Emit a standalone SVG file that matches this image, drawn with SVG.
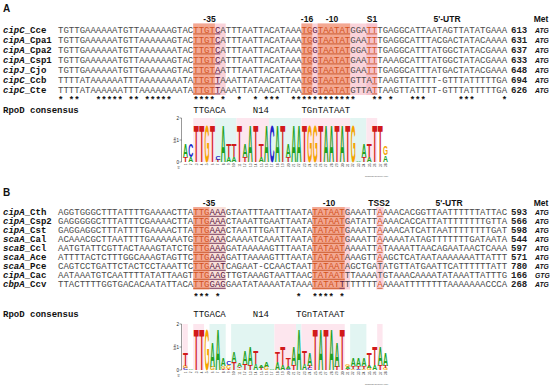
<svg xmlns="http://www.w3.org/2000/svg" width="550" height="387" viewBox="0 0 550 387">
<style>
.seq{font-family:"Liberation Mono","DejaVu Sans Mono",monospace;font-size:9.02px;fill:#4a4a4a}
.nm{font-family:"Liberation Mono","DejaVu Sans Mono",monospace;font-size:9.02px;font-weight:bold;fill:#111}
.nm .i{font-style:italic}
.num{font-family:"Liberation Mono",monospace;font-size:9.02px;font-weight:bold;fill:#222}
.cod{font-family:"Liberation Sans",Arial,sans-serif;font-size:6.8px;font-weight:bold;font-style:italic;fill:#111}
.hd{font-family:"Liberation Sans",Arial,sans-serif;font-size:8.5px;font-weight:bold;fill:#111;text-anchor:middle}
.pl{font-family:"Liberation Sans",Arial,sans-serif;font-size:10px;font-weight:bold;fill:#111}
.st{font-family:"Liberation Mono",monospace;font-size:9.02px;font-weight:bold;fill:#111}
.cons{font-family:"Liberation Mono",monospace;font-size:9.02px;fill:#111}
.o{fill:#d4521c}
.p{fill:#5a1844}
.pk{fill:#fad3da}
.pk2{fill:#f7c2cc}
.sa{fill:#f3a892}
.ul{stroke:#c24a18;stroke-width:0.8;fill:none}
.ulp{stroke:#5a1844;stroke-width:0.8;fill:none}
.L{font-family:"Liberation Sans",Arial,sans-serif;font-weight:bold;font-size:10px}
.la{fill:#21a121}
.lc{fill:#2222c8}
.lg{fill:#f4a400}
.lt{fill:#d11a1a}
.ax{stroke:#333;stroke-width:0.5;fill:none}
.tk{font-family:"Liberation Sans",Arial,sans-serif;font-size:4.5px;fill:#222;text-anchor:end}
.pn{font-family:"Liberation Sans",Arial,sans-serif;font-size:3.2px;fill:#333;text-anchor:end}
.wl{font-family:"Liberation Sans",Arial,sans-serif;font-size:2.4px;fill:#555;text-anchor:end}
.bgp{fill:#fde6ee}
.bgc{fill:#e2f5f2}
</style>

<g id="panelA">
<text class="pl" x="3" y="12">A</text>
<g id="headerA">
<text class="hd" x="209.5" y="21.5">-35</text>
<text class="hd" x="307" y="21.5">-16</text>
<text class="hd" x="332" y="21.5">-10</text>
<text class="hd" x="372" y="21.5">S1</text>
<text class="hd" x="447" y="21.5">5'-UTR</text>
<text class="hd" x="541" y="21.5">Met</text>
</g>
<g id="highlightA">
<rect class="pk" x="193.25" y="23.5" width="32.46" height="71.5"/>
<rect class="sa" x="193.25" y="23.5" width="21.64" height="71.5"/>
<rect class="pk" x="301.45" y="23.5" width="75.74" height="71.5"/>
<rect class="pk2" x="366.37" y="23.5" width="10.82" height="71.5"/>
<rect class="sa" x="301.45" y="23.5" width="10.82" height="71.5"/>
<rect class="sa" x="317.68" y="23.5" width="32.46" height="71.5"/>
</g>
<g id="namesA" class="nm">
<text x="3" y="32.5"><tspan class="i">cipC</tspan>_Cce</text>
<text x="3" y="42.5"><tspan class="i">cipA</tspan>_Cpa1</text>
<text x="3" y="52.5"><tspan class="i">cipA</tspan>_Cpa2</text>
<text x="3" y="62.5"><tspan class="i">cipA</tspan>_Csp1</text>
<text x="3" y="72.5"><tspan class="i">cipJ</tspan>_Cjo</text>
<text x="3" y="82.5"><tspan class="i">cipC</tspan>_Ccb</text>
<text x="3" y="92.5"><tspan class="i">cipC</tspan>_Cte</text>
</g>
<g id="seqA" class="seq">
<text x="58" y="32.5">TGTTGAAAAAATGTTAAAAAAGTAC<tspan class="o">TTGT</tspan><tspan class="p">C</tspan>ATTTAATTACATAAA<tspan class="o">TG</tspan><tspan class="p">G</tspan><tspan class="o">TAATAT</tspan>GGA<tspan class="o">TT</tspan>TGAGGCATTAATAGTTATATGAAA</text>
<text x="58" y="42.5">TGTTGAAAAAATGTTAAAAAAGTAC<tspan class="o">TTGT</tspan><tspan class="p">C</tspan>ATTTAATTACATAAA<tspan class="o">TG</tspan><tspan class="p">G</tspan><tspan class="o">TAATAT</tspan>GAA<tspan class="o">TT</tspan>TGAGGCATTTACGACTATACAAAA</text>
<text x="58" y="52.5">TGTTGAAAAAATGTTAAAAAAATAC<tspan class="o">TTGT</tspan><tspan class="p">C</tspan>ATTTAATTACATAAA<tspan class="o">TG</tspan><tspan class="p">G</tspan><tspan class="o">TAATAT</tspan>GGA<tspan class="o">TT</tspan>TGAGGCATTTATGGCTATACGAAA</text>
<text x="58" y="62.5">TGTTGAAAAAATGTTAAAAAAGTAC<tspan class="o">TTGT</tspan><tspan class="p">C</tspan>ATTTAATTACATAAA<tspan class="o">TG</tspan><tspan class="p">G</tspan><tspan class="o">TAATAT</tspan>GAA<tspan class="o">TT</tspan>TAAAGCATTTATGGCTATACGAAA</text>
<text x="58" y="72.5">TGTTGAAAAAATGTTGAAAAAGTAC<tspan class="o">TTGT</tspan><tspan class="p">A</tspan>ATTTAATTACATAAA<tspan class="o">TG</tspan><tspan class="p">G</tspan><tspan class="o">TAATAT</tspan>GAA<tspan class="o">TT</tspan>TGAGGCATTTATGACTATACGAAA</text>
<text x="58" y="82.5">TTTTATAAAAAATTTAAAAAAAATA<tspan class="o">TTGT</tspan><tspan class="p">T</tspan>AAATTATAACATTAA<tspan class="o">TG</tspan><tspan class="p">G</tspan><tspan class="o">TAATAT</tspan>GTTA<tspan class="o">T</tspan>TAAGTTATTTT-GTTTATTTTTGA</text>
<text x="58" y="92.5">TTTTATAAAAAATTTAAAAAAAATA<tspan class="o">TTGT</tspan><tspan class="p">T</tspan>AAATTATAACATTAA<tspan class="o">TG</tspan><tspan class="p">G</tspan><tspan class="o">TAATAT</tspan>GTTA<tspan class="o">T</tspan>TAAGTTATTTT-GTTTATTTTTGA</text>
</g>
<g id="underlineA">
<path class="ul" d="M193.25 33.9H214.9M301.45 33.9H312.27M317.68 33.9H350.14M366.37 33.9H377.19M193.25 43.9H214.9M301.45 43.9H312.27M317.68 43.9H350.14M366.37 43.9H377.19M193.25 53.9H214.9M301.45 53.9H312.27M317.68 53.9H350.14M366.37 53.9H377.19M193.25 63.9H214.9M301.45 63.9H312.27M317.68 63.9H350.14M366.37 63.9H377.19M193.25 73.9H214.9M301.45 73.9H312.27M317.68 73.9H350.14M366.37 73.9H377.19M193.25 83.9H214.9M301.45 83.9H312.27M317.68 83.9H350.14M371.78 83.9H377.19M193.25 93.9H214.9M301.45 93.9H312.27M317.68 93.9H350.14M371.78 93.9H377.19"/>
<path class="ulp" d="M214.9 33.9H220.3M214.9 43.9H220.3M214.9 53.9H220.3M214.9 63.9H220.3M214.9 73.9H220.3M214.9 83.9H220.3M214.9 93.9H220.3"/>
</g>
<g id="numsA" class="num">
<text x="511" y="32.5">613</text>
<text x="511" y="42.5">631</text>
<text x="511" y="52.5">637</text>
<text x="511" y="62.5">633</text>
<text x="511" y="72.5">648</text>
<text x="511" y="82.5">694</text>
<text x="511" y="92.5">626</text>
</g>
<g id="codA" class="cod">
<text x="535" y="32.5">ATG</text>
<text x="535" y="42.5">ATG</text>
<text x="535" y="52.5">ATG</text>
<text x="535" y="62.5">ATG</text>
<text x="535" y="72.5">ATG</text>
<text x="535" y="82.5">ATG</text>
<text x="535" y="92.5">ATG</text>
</g>
<text class="st" x="58" y="102.5" xml:space="preserve" style="white-space:pre">* **   ***** ** *****    **** *  *  * ***  ************   ** *   ***      ***     *</text>
<g id="consA">
<text class="nm" x="3" y="113">RpoD consensus</text>
<text class="cons" x="193.25" y="113">TTGACA</text>
<text class="cons" x="252.76" y="113">N14</text>
<text class="cons" x="301.45" y="113">TGnTATAAT</text>
</g>
<g id="logoA">
<rect class="bgp" x="193.25" y="118" width="21.64" height="44"/>
<rect class="bgc" x="214.89" y="118" width="21.64" height="44"/>
<rect class="bgp" x="236.53" y="118" width="32.46" height="44"/>
<rect class="bgc" x="268.99" y="118" width="32.46" height="44"/>
<rect class="bgp" x="301.45" y="118" width="48.69" height="44"/>
<rect class="bgc" x="350.14" y="118" width="16.23" height="44"/>
<rect class="bgp" x="366.37" y="118" width="10.82" height="44"/>
<path class="ax" d="M179.5 118H181.5V162H179.5M179.5 140H181.5"/>
<text class="tk" x="179" y="119.6">2</text>
<text class="tk" x="179" y="141.6">1</text>
<text class="tk" x="179" y="163.6">0</text>
<text class="tk" transform="translate(175.5,140) rotate(-90)" style="text-anchor:middle;font-size:4px">bits</text>
<text class="tk" x="180" y="169" style="font-size:3.5px">5′</text>
<g class="L">
<text class="lt" transform="translate(182.93,162) scale(.8183,.737)">T</text>
<text class="la" transform="translate(182.93,156.72) scale(.6925,1.813)">A</text>
<text class="la" transform="translate(188.34,162) scale(.6925,.737)">A</text>
<text class="lc" transform="translate(188.34,156.72) scale(.6925,1.813)">C</text>
<text class="lt" transform="translate(193.75,162) scale(.8183,5.193)">T</text>
<text class="lt" transform="translate(199.16,162) scale(.8183,5.193)">T</text>
<text class="lg" transform="translate(204.57,162) scale(.6427,5.193)">G</text>
<text class="lt" transform="translate(209.98,162) scale(.8183,5.193)">T</text>
<text class="lt" transform="translate(215.39,162) scale(.8183,.277)">T</text>
<text class="lc" transform="translate(215.39,160.02) scale(.6925,.553)">C</text>
<text class="la" transform="translate(220.8,162) scale(.6925,5.193)">A</text>
<text class="la" transform="translate(226.21,162) scale(.6925,.737)">A</text>
<text class="lt" transform="translate(226.21,156.72) scale(.8183,1.813)">T</text>
<text class="la" transform="translate(231.62,162) scale(.6925,.737)">A</text>
<text class="lt" transform="translate(231.62,156.72) scale(.8183,1.813)">T</text>
<text class="lt" transform="translate(237.03,162) scale(.8183,5.193)">T</text>
<text class="lt" transform="translate(242.44,162) scale(.8183,.737)">T</text>
<text class="la" transform="translate(242.44,156.72) scale(.6925,1.813)">A</text>
<text class="la" transform="translate(247.85,162) scale(.6925,5.193)">A</text>
<text class="lt" transform="translate(253.26,162) scale(.8183,5.193)">T</text>
<text class="la" transform="translate(258.67,162) scale(.6925,.737)">A</text>
<text class="lt" transform="translate(258.67,156.72) scale(.8183,1.813)">T</text>
<text class="la" transform="translate(264.08,162) scale(.6925,5.193)">A</text>
<text class="lc" transform="translate(269.49,162) scale(.6925,5.193)">C</text>
<text class="la" transform="translate(274.9,162) scale(.6925,5.193)">A</text>
<text class="lt" transform="translate(280.31,162) scale(.8183,5.193)">T</text>
<text class="lt" transform="translate(285.72,162) scale(.8183,.737)">T</text>
<text class="la" transform="translate(285.72,156.72) scale(.6925,1.813)">A</text>
<text class="la" transform="translate(291.13,162) scale(.6925,5.193)">A</text>
<text class="la" transform="translate(296.54,162) scale(.6925,5.193)">A</text>
<text class="lt" transform="translate(301.95,162) scale(.8183,5.193)">T</text>
<text class="lg" transform="translate(307.36,162) scale(.6427,5.193)">G</text>
<text class="lg" transform="translate(312.77,162) scale(.6427,5.193)">G</text>
<text class="lt" transform="translate(318.18,162) scale(.8183,5.193)">T</text>
<text class="la" transform="translate(323.59,162) scale(.6925,5.193)">A</text>
<text class="la" transform="translate(329,162) scale(.6925,5.193)">A</text>
<text class="lt" transform="translate(334.41,162) scale(.8183,5.193)">T</text>
<text class="la" transform="translate(339.82,162) scale(.6925,5.193)">A</text>
<text class="lt" transform="translate(345.23,162) scale(.8183,5.193)">T</text>
<text class="lg" transform="translate(350.64,162) scale(.6427,5.193)">G</text>
<text class="la" transform="translate(356.05,162) scale(.6925,.154)">A</text>
<text class="lt" transform="translate(361.46,162) scale(.8183,.737)">T</text>
<text class="la" transform="translate(361.46,156.72) scale(.6925,1.813)">A</text>
<text class="la" transform="translate(366.87,162) scale(.6925,.737)">A</text>
<text class="lt" transform="translate(366.87,156.72) scale(.8183,1.813)">T</text>
<text class="lt" transform="translate(372.28,162) scale(.8183,5.193)">T</text>
<text class="lt" transform="translate(377.69,162) scale(.8183,5.193)">T</text>
<text class="la" transform="translate(383.1,162) scale(.6925,.922)">A</text>
<text class="lg" transform="translate(383.1,155.4) scale(.6427,1.229)">G</text>
</g>
<g class="pn" transform="rotate(-90)">
<text x="-163.5" y="186.7">1</text><text x="-163.5" y="192.1">2</text><text x="-163.5" y="197.5">3</text><text x="-163.5" y="202.9">4</text><text x="-163.5" y="208.4">5</text><text x="-163.5" y="213.8">6</text><text x="-163.5" y="219.2">7</text><text x="-163.5" y="224.6">8</text><text x="-163.5" y="230">9</text><text x="-163.5" y="235.4">10</text><text x="-163.5" y="240.8">11</text><text x="-163.5" y="246.2">12</text><text x="-163.5" y="251.6">13</text><text x="-163.5" y="257">14</text><text x="-163.5" y="262.5">15</text><text x="-163.5" y="267.9">16</text><text x="-163.5" y="273.3">17</text><text x="-163.5" y="278.7">18</text><text x="-163.5" y="284.1">19</text><text x="-163.5" y="289.5">20</text><text x="-163.5" y="294.9">21</text><text x="-163.5" y="300.3">22</text><text x="-163.5" y="305.7">23</text><text x="-163.5" y="311.1">24</text><text x="-163.5" y="316.6">25</text><text x="-163.5" y="322">26</text><text x="-163.5" y="327.4">27</text><text x="-163.5" y="332.8">28</text><text x="-163.5" y="338.2">29</text><text x="-163.5" y="343.6">30</text><text x="-163.5" y="349">31</text><text x="-163.5" y="354.4">32</text><text x="-163.5" y="359.8">33</text><text x="-163.5" y="365.2">34</text><text x="-163.5" y="370.7">35</text><text x="-163.5" y="376.1">36</text><text x="-163.5" y="381.5">37</text><text x="-163.5" y="386.9">38</text>
</g>
<text class="wl" x="388" y="176.5">weblogo.berkeley.edu</text>
</g>
</g>

<g id="panelB">
<text class="pl" x="3" y="196">B</text>
<g id="headerB">
<text class="hd" x="209" y="205.5">-35</text>
<text class="hd" x="329" y="205.5">-10</text>
<text class="hd" x="379" y="205.5">TSS2</text>
<text class="hd" x="449" y="205.5">5'-UTR</text>
<text class="hd" x="541" y="205.5">Met</text>
</g>
<g id="highlightB">
<rect fill="#f8dfd8" x="193.25" y="207" width="32.46" height="82.5"/>
<rect class="sa" x="193.25" y="207" width="16.23" height="82.5"/>
<rect class="pk" x="312.27" y="207" width="37.87" height="82.5"/>
<rect class="sa" x="312.27" y="207" width="32.46" height="82.5"/>
<rect class="pk" x="376.2" y="207" width="7.4" height="82.5"/>
</g>
<g id="namesB" class="nm">
<text x="3" y="215"><tspan class="i">cipA</tspan>_Cth</text>
<text x="3" y="224"><tspan class="i">cipA</tspan>_Csp2</text>
<text x="3" y="233"><tspan class="i">cipA</tspan>_Cst</text>
<text x="3" y="242"><tspan class="i">scaA</tspan>_Cal</text>
<text x="3" y="251"><tspan class="i">scaB</tspan>_Ccl</text>
<text x="3" y="260"><tspan class="i">scaA</tspan>_Ace</text>
<text x="3" y="269"><tspan class="i">scaA</tspan>_Pce</text>
<text x="3" y="278"><tspan class="i">cipA</tspan>_Cac</text>
<text x="3" y="287"><tspan class="i">cbpA</tspan>_Ccv</text>
</g>
<g id="seqB" class="seq">
<text x="58" y="215">AGGTGGGCTTTATTTTGAAAACTTA<tspan class="o">TTG</tspan><tspan class="p">AAA</tspan>GTAATTTAATTTAATA<tspan class="o">TATAAT</tspan>GAAATT<tspan class="o">A</tspan>AAACACGGTTAATTTTTTATTAC</text>
<text x="58" y="224">GAGGGGGCTTTATTTCGAAAACTTA<tspan class="o">TTG</tspan><tspan class="p">AAA</tspan>CTAAATTGAATTAATA<tspan class="o">TATAAT</tspan>GATATT<tspan class="o">A</tspan>AAACACCATTATTTTTTTTGTTA</text>
<text x="58" y="233">GAGGAGGCTTTATTTTGAAAACTTA<tspan class="o">TTG</tspan><tspan class="p">AAA</tspan>CTAATTTGATTTAATA<tspan class="o">TATAAT</tspan>GAAATT<tspan class="o">A</tspan>AAACATCATTAATTTTTTTTGAT</text>
<text x="58" y="242">ACAAACGCTTAATTTTGAAAAAATG<tspan class="o">TTG</tspan><tspan class="p">AAA</tspan>CAAAATCAAATTAATA<tspan class="o">TATAAT</tspan>GAAATT<tspan class="o">A</tspan>AAAATATAGTTTTTTTGATAATA</text>
<text x="58" y="251">AATGTATTCGTTACTAAAGTATCTG<tspan class="o">TTG</tspan><tspan class="p">AAA</tspan>GATAAAAAGTTTAATA<tspan class="o">TATAAT</tspan>AAAATT<tspan class="o">A</tspan>TAAAATTAACAGAATAACTCAAA</text>
<text x="58" y="260">ATTTTACTCTTTGGCAAAGTAGTTC<tspan class="o">TTG</tspan><tspan class="p">AAA</tspan>GATTAAAAGTTTAATA<tspan class="o">TATAAT</tspan>AAAGTT<tspan class="o">A</tspan>AGCTCATAATAAAAAAATTATTT</text>
<text x="58" y="269">CAGTCCTGATTCTACTCCTAAATTC<tspan class="o">TTG</tspan><tspan class="p">AAT</tspan>CAGAAT-CCAACTAAT<tspan class="o">TATAAT</tspan>AGCTGATATGTTATGAATTCATTTTTTATT</text>
<text x="58" y="278">AATAAATGTCAATTTTATATTAAGT<tspan class="o">TTG</tspan><tspan class="p">AAG</tspan>TTGTAAAGTAATTAAC<tspan class="o">TATAAT</tspan>TTAAAATGTAAACAAAATATAAATTATTTG</text>
<text x="58" y="287">TTACTTTTGGTGACACAATATTACA<tspan class="o">TTG</tspan><tspan class="p">GAG</tspan>GAATATAAAATATAAA<tspan class="o">TATAT</tspan><tspan class="p">T</tspan>TTTTTT<tspan class="o">A</tspan>AAAATTTTTTTTAAAAAAACCCA</text>
</g>
<g id="underlineB">
<path class="ul" d="M193.25 216.3H209.48M312.27 216.3H344.73M377.19 216.3H382.6M193.25 225.3H209.48M312.27 225.3H344.73M377.19 225.3H382.6M193.25 234.3H209.48M312.27 234.3H344.73M377.19 234.3H382.6M193.25 243.3H209.48M312.27 243.3H344.73M377.19 243.3H382.6M193.25 252.3H209.48M312.27 252.3H344.73M377.19 252.3H382.6M193.25 261.3H209.48M312.27 261.3H344.73M377.19 261.3H382.6M193.25 270.3H209.48M312.27 270.3H344.73M193.25 279.3H209.48M312.27 279.3H344.73M193.25 288.3H209.48M312.27 288.3H339.32M377.19 288.3H382.6"/>
<path class="ulp" d="M209.48 216.3H225.71M209.48 225.3H225.71M209.48 234.3H225.71M209.48 243.3H225.71M209.48 252.3H225.71M209.48 261.3H225.71M209.48 270.3H225.71M209.48 279.3H225.71M209.48 288.3H225.71M339.32 288.3H344.73"/>
</g>
<g id="numsB" class="num">
<text x="511" y="215">593</text>
<text x="511" y="224">566</text>
<text x="511" y="233">598</text>
<text x="511" y="242">544</text>
<text x="511" y="251">597</text>
<text x="511" y="260">571</text>
<text x="511" y="269">780</text>
<text x="511" y="278">166</text>
<text x="511" y="287">268</text>
</g>
<g id="codB" class="cod">
<text x="535" y="215">ATG</text>
<text x="535" y="224">ATG</text>
<text x="535" y="233">ATG</text>
<text x="535" y="242">ATG</text>
<text x="535" y="251">ATG</text>
<text x="535" y="260">ATG</text>
<text x="535" y="269">ATG</text>
<text x="535" y="278">GTG</text>
<text x="535" y="287">ATG</text>
</g>
<text class="st" x="193.25" y="300" xml:space="preserve" style="white-space:pre">*** *</text>
<text class="st" x="296.04" y="300" xml:space="preserve" style="white-space:pre">*  **** *</text>
<g id="consB">
<text class="nm" x="3" y="317">RpoD consensus</text>
<text class="cons" x="193.25" y="317">TTGACA</text>
<text class="cons" x="252.76" y="317">N14</text>
<text class="cons" x="296.04" y="317">TGnTATAAT</text>
</g>
<g id="logoB">
<rect class="bgp" x="182.43" y="324" width="5.41" height="46"/>
<rect class="bgp" x="193.25" y="324" width="10.82" height="46"/>
<rect class="bgc" x="209.48" y="324" width="16.23" height="46"/>
<rect class="bgc" x="231.12" y="324" width="43.28" height="46"/>
<rect class="bgp" x="274.4" y="324" width="21.64" height="46"/>
<rect class="bgc" x="296.04" y="324" width="5.41" height="46"/>
<rect class="bgp" x="301.45" y="324" width="43.28" height="46"/>
<rect class="bgc" x="350.14" y="324" width="16.23" height="46"/>
<rect class="bgp" x="377.19" y="324" width="5.41" height="46"/>
<path class="ax" d="M179.5 324H181.5V370H179.5M179.5 347H181.5"/>
<text class="tk" x="179" y="325.6">2</text>
<text class="tk" x="179" y="348.6">1</text>
<text class="tk" x="179" y="371.6">0</text>
<text class="tk" transform="translate(175.5,347) rotate(-90)" style="text-anchor:middle;font-size:4px">bits</text>
<text class="tk" x="180" y="377" style="font-size:3.5px">5′</text>
<g class="L">
<text class="lc" transform="translate(182.93,370) scale(.6925,.289)">C</text>
<text class="lg" transform="translate(182.93,367.93) scale(.6427,.289)">G</text>
<text class="lt" transform="translate(182.93,365.86) scale(.8183,1.927)">T</text>
<text class="la" transform="translate(188.34,370) scale(.6925,.161)">A</text>
<text class="lt" transform="translate(193.75,370) scale(.8183,5.654)">T</text>
<text class="lt" transform="translate(199.16,370) scale(.8183,5.654)">T</text>
<text class="lg" transform="translate(204.57,370) scale(.6427,5.654)">G</text>
<text class="lg" transform="translate(209.98,370) scale(.6427,.45)">G</text>
<text class="la" transform="translate(209.98,366.78) scale(.6925,3.598)">A</text>
<text class="la" transform="translate(215.39,370) scale(.6925,5.654)">A</text>
<text class="lt" transform="translate(220.8,370) scale(.8183,.193)">T</text>
<text class="lg" transform="translate(220.8,368.62) scale(.6427,.385)">G</text>
<text class="la" transform="translate(220.8,365.86) scale(.6925,1.156)">A</text>
<text class="lt" transform="translate(226.21,370) scale(.8183,.128)">T</text>
<text class="lg" transform="translate(226.21,369.08) scale(.6427,.514)">G</text>
<text class="lc" transform="translate(226.21,365.4) scale(.6925,.514)">C</text>
<text class="lt" transform="translate(231.62,370) scale(.8183,1.092)">T</text>
<text class="la" transform="translate(231.62,362.18) scale(.6925,1.381)">A</text>
<text class="lg" transform="translate(237.03,370) scale(.6427,.225)">G</text>
<text class="lt" transform="translate(237.03,368.39) scale(.8183,.225)">T</text>
<text class="la" transform="translate(237.03,366.78) scale(.6925,.578)">A</text>
<text class="lt" transform="translate(242.44,370) scale(.8183,.899)">T</text>
<text class="la" transform="translate(242.44,363.56) scale(.6925,1.799)">A</text>
<text class="lt" transform="translate(247.85,370) scale(.8183,.707)">T</text>
<text class="la" transform="translate(247.85,364.94) scale(.6925,2.505)">A</text>
<text class="la" transform="translate(253.26,370) scale(.6925,.899)">A</text>
<text class="lt" transform="translate(253.26,363.56) scale(.8183,1.799)">T</text>
<text class="lt" transform="translate(258.67,370) scale(.8183,.321)">T</text>
<text class="la" transform="translate(258.67,367.7) scale(.6925,.418)">A</text>
<text class="lg" transform="translate(264.08,370) scale(.6427,.45)">G</text>
<text class="la" transform="translate(264.08,366.78) scale(.6925,.739)">A</text>
<text class="la" transform="translate(269.49,370) scale(.6925,.161)">A</text>
<text class="la" transform="translate(274.9,370) scale(.6925,1.092)">A</text>
<text class="lt" transform="translate(274.9,362.18) scale(.8183,1.381)">T</text>
<text class="la" transform="translate(280.31,370) scale(.6925,.707)">A</text>
<text class="lt" transform="translate(280.31,364.94) scale(.8183,2.505)">T</text>
<text class="lc" transform="translate(285.72,370) scale(.6925,.193)">C</text>
<text class="la" transform="translate(285.72,368.62) scale(.6925,.385)">A</text>
<text class="lt" transform="translate(285.72,365.86) scale(.8183,1.156)">T</text>
<text class="lt" transform="translate(291.13,370) scale(.8183,.707)">T</text>
<text class="la" transform="translate(291.13,364.94) scale(.6925,2.505)">A</text>
<text class="la" transform="translate(296.54,370) scale(.6925,5.654)">A</text>
<text class="la" transform="translate(301.95,370) scale(.6925,.899)">A</text>
<text class="lt" transform="translate(301.95,363.56) scale(.8183,1.799)">T</text>
<text class="lc" transform="translate(307.36,370) scale(.6925,.257)">C</text>
<text class="lt" transform="translate(307.36,368.16) scale(.8183,.257)">T</text>
<text class="la" transform="translate(307.36,366.32) scale(.6925,1.927)">A</text>
<text class="lt" transform="translate(312.77,370) scale(.8183,5.654)">T</text>
<text class="la" transform="translate(318.18,370) scale(.6925,5.654)">A</text>
<text class="lt" transform="translate(323.59,370) scale(.8183,5.654)">T</text>
<text class="la" transform="translate(329,370) scale(.6925,5.654)">A</text>
<text class="lt" transform="translate(334.41,370) scale(.8183,.45)">T</text>
<text class="la" transform="translate(334.41,366.78) scale(.6925,3.598)">A</text>
<text class="lt" transform="translate(339.82,370) scale(.8183,5.654)">T</text>
<text class="lt" transform="translate(345.23,370) scale(.8183,.161)">T</text>
<text class="la" transform="translate(345.23,368.85) scale(.6925,.257)">A</text>
<text class="lg" transform="translate(345.23,367.01) scale(.6427,.321)">G</text>
<text class="lg" transform="translate(350.64,370) scale(.6427,.193)">G</text>
<text class="lt" transform="translate(350.64,368.62) scale(.8183,.385)">T</text>
<text class="la" transform="translate(350.64,365.86) scale(.6925,1.156)">A</text>
<text class="lc" transform="translate(356.05,370) scale(.6925,.193)">C</text>
<text class="lt" transform="translate(356.05,368.62) scale(.8183,.385)">T</text>
<text class="la" transform="translate(356.05,365.86) scale(.6925,1.156)">A</text>
<text class="lg" transform="translate(361.46,370) scale(.6427,.193)">G</text>
<text class="lt" transform="translate(361.46,368.62) scale(.8183,.385)">T</text>
<text class="la" transform="translate(361.46,365.86) scale(.6925,1.156)">A</text>
<text class="lg" transform="translate(366.87,370) scale(.6427,.257)">G</text>
<text class="la" transform="translate(366.87,368.16) scale(.6925,.257)">A</text>
<text class="lt" transform="translate(366.87,366.32) scale(.8183,1.927)">T</text>
<text class="la" transform="translate(372.28,370) scale(.6925,.707)">A</text>
<text class="lt" transform="translate(372.28,364.94) scale(.8183,2.505)">T</text>
<text class="lt" transform="translate(377.69,370) scale(.8183,.707)">T</text>
<text class="la" transform="translate(377.69,364.94) scale(.6925,2.505)">A</text>
<text class="lg" transform="translate(383.1,370) scale(.6427,.257)">G</text>
<text class="lt" transform="translate(383.1,368.16) scale(.8183,.257)">T</text>
<text class="la" transform="translate(383.1,366.32) scale(.6925,1.927)">A</text>
</g>
<g class="pn" transform="rotate(-90)">
<text x="-371.5" y="186.7">1</text><text x="-371.5" y="192.1">2</text><text x="-371.5" y="197.5">3</text><text x="-371.5" y="202.9">4</text><text x="-371.5" y="208.4">5</text><text x="-371.5" y="213.8">6</text><text x="-371.5" y="219.2">7</text><text x="-371.5" y="224.6">8</text><text x="-371.5" y="230">9</text><text x="-371.5" y="235.4">10</text><text x="-371.5" y="240.8">11</text><text x="-371.5" y="246.2">12</text><text x="-371.5" y="251.6">13</text><text x="-371.5" y="257">14</text><text x="-371.5" y="262.5">15</text><text x="-371.5" y="267.9">16</text><text x="-371.5" y="273.3">17</text><text x="-371.5" y="278.7">18</text><text x="-371.5" y="284.1">19</text><text x="-371.5" y="289.5">20</text><text x="-371.5" y="294.9">21</text><text x="-371.5" y="300.3">22</text><text x="-371.5" y="305.7">23</text><text x="-371.5" y="311.1">24</text><text x="-371.5" y="316.6">25</text><text x="-371.5" y="322">26</text><text x="-371.5" y="327.4">27</text><text x="-371.5" y="332.8">28</text><text x="-371.5" y="338.2">29</text><text x="-371.5" y="343.6">30</text><text x="-371.5" y="349">31</text><text x="-371.5" y="354.4">32</text><text x="-371.5" y="359.8">33</text><text x="-371.5" y="365.2">34</text><text x="-371.5" y="370.7">35</text><text x="-371.5" y="376.1">36</text><text x="-371.5" y="381.5">37</text><text x="-371.5" y="386.9">38</text>
</g>
<text class="wl" x="388" y="384.5">weblogo.berkeley.edu</text>
</g>
</g>
</svg>
